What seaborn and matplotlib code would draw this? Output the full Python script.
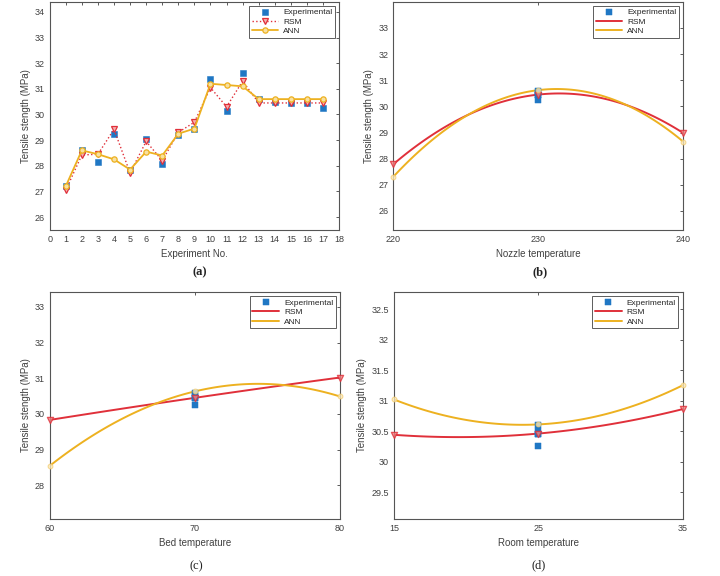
import numpy as np
import pandas as pd
import matplotlib.pyplot as plt
import seaborn as sns

# values

run_no = list(range(1, 18))
exp_a = [27.2, 28.6, 28.15, 29.25, 27.85, 29.05, 28.05, 29.2, 29.45, 31.4,
         30.15, 31.6, 30.6, 30.5, 30.45, 30.45, 30.25]
rsm_a = [27.05, 28.42, 28.45, 29.42, 27.72, 28.95, 28.2, 29.3, 29.7, 31.05,
         30.3, 31.3, 30.45, 30.45, 30.45, 30.45, 30.45]
ann_a = [27.2, 28.6, 28.45, 28.25, 27.85, 28.55, 28.4, 29.25, 29.45, 31.2,
         31.15, 31.1, 30.6, 30.6, 30.6, 30.6, 30.6]

# centre runs (13-17) -> experimental points at the middle level
center_exp = [30.6, 30.5, 30.45, 30.45, 30.25]

nozzle_t = [220, 230, 240]
rsm_nozzle = [27.78, 30.45, 28.98]
ann_nozzle = [27.3, 30.62, 28.65]

bed_t = [60, 70, 80]
rsm_bed = [29.83, 30.45, 31.02]
ann_bed = [28.54, 30.63, 30.49]

room_t = [15, 25, 35]
rsm_room = [30.44, 30.46, 30.86]
ann_room = [31.02, 30.61, 31.25]

BLUE = "#1f77c4"
RED = "#e0303a"
ORANGE = "#edb120"
TXT = "#404040"

sns.set_style("white")
plt.rcParams['font.family'] = ['Liberation Sans', 'DejaVu Sans']

fig = plt.figure(figsize=(7.2, 5.76), dpi=100)
ax_a = fig.add_axes([0.069, 0.601, 0.402, 0.396])
ax_b = fig.add_axes([0.546, 0.601, 0.403, 0.396])
ax_c = fig.add_axes([0.069, 0.099, 0.403, 0.394])
ax_d = fig.add_axes([0.547, 0.099, 0.401, 0.394])


def style_axes(ax, xlabel):
    for s in ax.spines.values():
        s.set_color("#555555")
        s.set_linewidth(0.8)
    ax.tick_params(direction="in", length=2.5, width=0.6, labelsize=6.5,
                   colors=TXT, top=True, right=True, labelcolor=TXT)
    ax.set_xlabel(xlabel, fontsize=7, color=TXT, labelpad=4)
    ax.set_ylabel("Tensile stength (MPa)", fontsize=7, color=TXT, labelpad=3)
    leg = ax.legend(loc="upper right", fontsize=6, frameon=True, fancybox=False,
                    edgecolor="#333333", borderpad=0.3, labelspacing=0.2,
                    handlelength=3.2, handletextpad=0.6)
    leg.get_frame().set_linewidth(0.7)


# (a) experiment runs
sns.scatterplot(x=run_no, y=exp_a, marker="s", s=22, color=BLUE, edgecolor=BLUE,
                label="Experimental", ax=ax_a, zorder=3)
sns.lineplot(x=run_no, y=rsm_a, color=RED, linestyle=":", linewidth=1.0,
             marker="v", markersize=4.2, markerfacecolor="#f4b0b0",
             markeredgecolor=RED, markeredgewidth=0.9,
             label="RSM", ax=ax_a, zorder=4)
sns.lineplot(x=run_no, y=ann_a, color=ORANGE, linewidth=1.3,
             marker="o", markersize=3.8, markerfacecolor="#f8e0a0",
             markeredgecolor=ORANGE, markeredgewidth=0.9,
             label="ANN", ax=ax_a, zorder=5)
ax_a.set_xlim(0, 18)
ax_a.set_ylim(25.5, 34.4)
ax_a.set_xticks(range(0, 19))
ax_a.set_yticks(range(26, 35))
style_axes(ax_a, "Experiment No.")


def factor_panel(ax, xs, rsm, ann, xlabel):
    sns.scatterplot(x=[xs[1]] * len(center_exp), y=center_exp, marker="s", s=20,
                    color=BLUE, edgecolor=BLUE, label="Experimental", ax=ax, zorder=3)
    sns.regplot(x=xs, y=rsm, order=2, ci=None, ax=ax, color=RED, marker="v",
                scatter_kws={"s": 20, "facecolors": "#f08080", "edgecolors": RED,
                             "linewidths": 0.9, "zorder": 4, "clip_on": False},
                line_kws={"linewidth": 1.4, "label": "RSM"})
    sns.regplot(x=xs, y=ann, order=2, ci=None, ax=ax, color=ORANGE, marker="o",
                scatter_kws={"s": 12, "facecolors": "#fbe8b8", "edgecolors": "#f3cc70",
                             "linewidths": 0.7, "zorder": 4, "clip_on": False},
                line_kws={"linewidth": 1.4, "label": "ANN"})
    ax.set_xlim(xs[0], xs[-1])
    ax.set_xticks(xs)
    style_axes(ax, xlabel)


factor_panel(ax_b, nozzle_t, rsm_nozzle, ann_nozzle, "Nozzle temperature")
ax_b.set_ylim(25.28, 34.0)
ax_b.set_yticks(range(26, 34))

factor_panel(ax_c, bed_t, rsm_bed, ann_bed, "Bed temperature")
ax_c.set_ylim(27.05, 33.42)
ax_c.set_yticks(range(28, 34))

factor_panel(ax_d, room_t, rsm_room, ann_room, "Room temperature")
ax_d.set_ylim(29.06, 32.78)
ax_d.set_yticks(np.arange(29.5, 32.51, 0.5))
ax_d.set_yticklabels(["29.5", "30", "30.5", "31", "31.5", "32", "32.5"])

# panel captions
for x, y, t, w in [(0.278, 0.528, "(a)", "bold"), (0.75, 0.527, "(b)", "bold"),
                   (0.273, 0.017, "(c)", "normal"), (0.748, 0.019, "(d)", "normal")]:
    fig.text(x, y, t, ha="center", va="center", fontsize=9, fontweight=w,
             family=["Liberation Serif", "DejaVu Serif"], color="#222222")

fig.savefig("out.png", dpi=100)
